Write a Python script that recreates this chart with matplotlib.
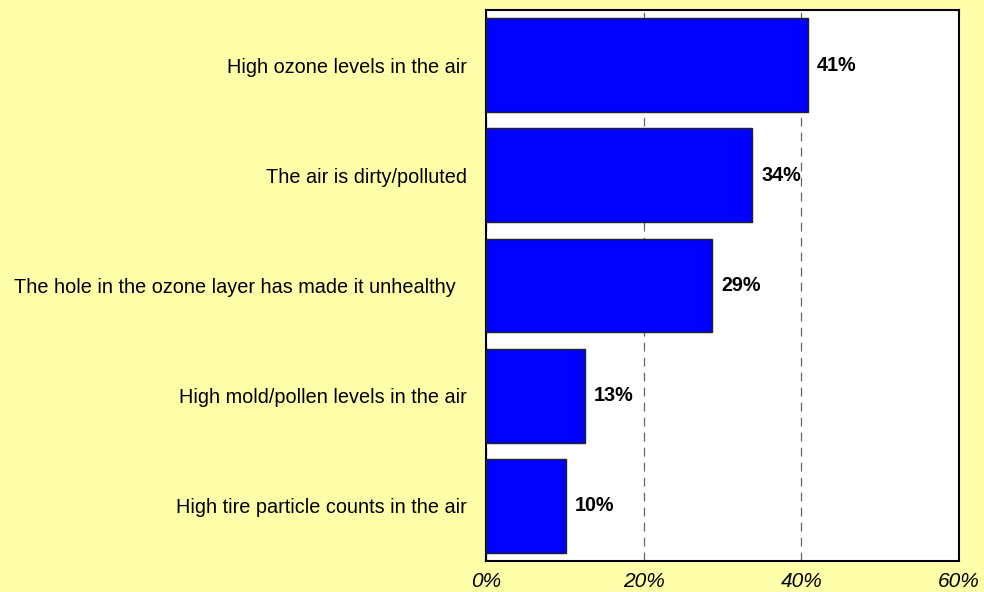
import matplotlib
matplotlib.use("Agg")
import matplotlib.pyplot as plt
from matplotlib.ticker import FuncFormatter

categories = [
    "High ozone levels in the air",
    "The air is dirty/polluted",
    "The hole in the ozone layer has made it unhealthy  ",
    "High mold/pollen levels in the air",
    "High tire particle counts in the air",
]
values = [40.8, 33.8, 28.7, 12.6, 10.2]
labels = ["41%", "34%", "29%", "13%", "10%"]
xticks = [0, 20, 40, 60]

plt.rcParams['font.family'] = ['Liberation Sans', 'DejaVu Sans']
bg = "#FFFFAA"
fig = plt.figure(figsize=(9.84, 5.92), dpi=100, facecolor=bg)
ax = fig.add_axes([486/984, 1-561/592, (959-486)/984, (561-10)/592])
ax.set_facecolor("white")

y = list(range(len(categories)))
ax.barh(y, values, height=0.85, color="#0000FF", edgecolor="#222222", linewidth=1, zorder=3)
for yi, v, lab in zip(y, values, labels):
    ax.text(v + 1.1, yi, lab, va="center", ha="left", fontsize=14.2, fontweight="bold", zorder=4)

ax.set_xlim(0, 60)
ax.set_ylim(len(categories) - 0.5, -0.5)
ax.set_yticks(y)
ax.set_yticklabels(categories, fontsize=14.3)
ax.set_xticks(xticks)
ax.xaxis.set_major_formatter(FuncFormatter(lambda v, p: f"{int(v)}%"))
for t in ax.get_xticklabels():
    t.set_fontstyle("italic")
    t.set_fontsize(15)
ax.tick_params(axis="y", length=0, pad=14)
ax.tick_params(axis="x", length=0, pad=8)
ax.grid(axis="x", linestyle=(0, (7, 5)), color="#666666", linewidth=0.9, zorder=1)
for s in ax.spines.values():
    s.set_linewidth(1.5)
    s.set_color("black")

fig.savefig("out.png", dpi=100, facecolor=bg)
